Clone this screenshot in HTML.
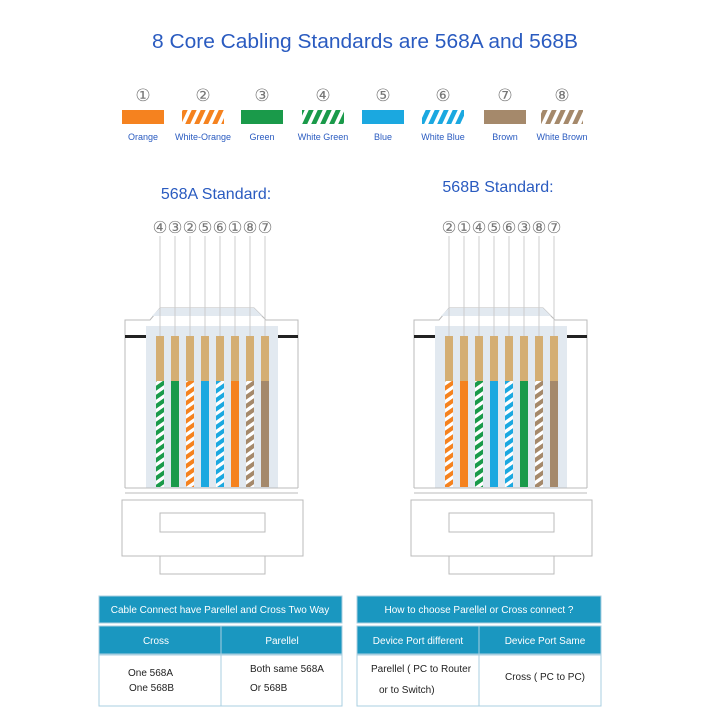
<!DOCTYPE html>
<html><head><meta charset="utf-8"><style>
html,body{margin:0;padding:0;background:#fff;width:720px;height:720px;overflow:hidden}
svg{display:block}
text{font-family:"Liberation Sans",sans-serif}
</style></head><body>
<svg width="720" height="720" viewBox="0 0 720 720" xmlns="http://www.w3.org/2000/svg">
<defs>
<pattern id="sO" width="8" height="9" patternUnits="userSpaceOnUse" patternTransform="skewY(-35)"><rect width="8" height="9" fill="#fff"/><rect width="8" height="5" fill="#f5821f"/></pattern>
<pattern id="sG" width="8" height="9" patternUnits="userSpaceOnUse" patternTransform="skewY(-35)"><rect width="8" height="9" fill="#fff"/><rect width="8" height="5" fill="#1a9a4a"/></pattern>
<pattern id="sB" width="8" height="9" patternUnits="userSpaceOnUse" patternTransform="skewY(-35)"><rect width="8" height="9" fill="#fff"/><rect width="8" height="5" fill="#1ba8e0"/></pattern>
<pattern id="sN" width="8" height="9" patternUnits="userSpaceOnUse" patternTransform="skewY(-35)"><rect width="8" height="9" fill="#fff"/><rect width="8" height="5" fill="#a5896b"/></pattern>
<pattern id="lO" width="9" height="14" patternUnits="userSpaceOnUse" patternTransform="skewX(-25)"><rect width="9" height="14" fill="#fff"/><rect width="5" height="14" fill="#f5821f"/></pattern>
<pattern id="lG" width="9" height="14" patternUnits="userSpaceOnUse" patternTransform="skewX(-25)"><rect width="9" height="14" fill="#fff"/><rect width="5" height="14" fill="#1a9a4a"/></pattern>
<pattern id="lB" width="9" height="14" patternUnits="userSpaceOnUse" patternTransform="skewX(-25)"><rect width="9" height="14" fill="#fff"/><rect width="5" height="14" fill="#1ba8e0"/></pattern>
<pattern id="lN" width="9" height="14" patternUnits="userSpaceOnUse" patternTransform="skewX(-25)"><rect width="9" height="14" fill="#fff"/><rect width="5" height="14" fill="#a5896b"/></pattern>
<g id="conn">
  <path d="M125,488 V320 H150 L160,308 H254 L266,320 H298 V488" fill="#fff" stroke="#bbb" stroke-width="1"/>
  <path d="M160,308 H254 L262,316 H152 Z" fill="#e2e9f0"/>
  <rect x="146" y="326" width="132" height="162" fill="#e2e9f0"/>
  <rect x="125" y="335" width="21" height="3" fill="#222"/>
  <rect x="278" y="335" width="20" height="3" fill="#222"/>
  <line x1="125" y1="488" x2="298" y2="488" stroke="#bbb"/>
  <line x1="125" y1="493" x2="298" y2="493" stroke="#bbb"/>
  <rect x="122" y="500" width="181" height="56" fill="#fff" stroke="#bbb"/>
  <rect x="160" y="513" width="105" height="19" fill="#fff" stroke="#bbb"/>
  <rect x="160" y="556" width="105" height="18" fill="#fff" stroke="#bbb"/>
  <g stroke="#ccc" stroke-width="1">
    <line x1="160" y1="236" x2="160" y2="336"/><line x1="175" y1="236" x2="175" y2="336"/><line x1="190" y1="236" x2="190" y2="336"/><line x1="205" y1="236" x2="205" y2="336"/><line x1="220" y1="236" x2="220" y2="336"/><line x1="235" y1="236" x2="235" y2="336"/><line x1="250" y1="236" x2="250" y2="336"/><line x1="265" y1="236" x2="265" y2="336"/>
  </g>
  <g fill="#d4ae73">
    <rect x="156" y="336" width="8" height="46"/><rect x="171" y="336" width="8" height="46"/><rect x="186" y="336" width="8" height="46"/><rect x="201" y="336" width="8" height="46"/><rect x="216" y="336" width="8" height="46"/><rect x="231" y="336" width="8" height="46"/><rect x="246" y="336" width="8" height="46"/><rect x="261" y="336" width="8" height="46"/>
  </g>
</g>
</defs>

<text x="365" y="48" text-anchor="middle" font-size="20" fill="#2a5bc0" textLength="426" lengthAdjust="spacingAndGlyphs">8 Core Cabling Standards are 568A and 568B</text>

<g font-size="17" fill="#777" text-anchor="middle">
<text x="143" y="101">①</text><text x="203" y="101">②</text><text x="262" y="101">③</text><text x="323" y="101">④</text><text x="383" y="101">⑤</text><text x="443" y="101">⑥</text><text x="505" y="101">⑦</text><text x="562" y="101">⑧</text>
</g>
<rect x="122" y="110" width="42" height="14" fill="#f5821f"/>
<rect x="182" y="110" width="42" height="14" fill="url(#lO)"/>
<rect x="241" y="110" width="42" height="14" fill="#1a9a4a"/>
<rect x="302" y="110" width="42" height="14" fill="url(#lG)"/>
<rect x="362" y="110" width="42" height="14" fill="#1ba8e0"/>
<rect x="422" y="110" width="42" height="14" fill="url(#lB)"/>
<rect x="484" y="110" width="42" height="14" fill="#a5896b"/>
<rect x="541" y="110" width="42" height="14" fill="url(#lN)"/>
<g font-size="9" fill="#2a5bc0" text-anchor="middle">
<text x="143" y="140">Orange</text><text x="203" y="140">White-Orange</text><text x="262" y="140">Green</text><text x="323" y="140">White Green</text><text x="383" y="140">Blue</text><text x="443" y="140">White Blue</text><text x="505" y="140">Brown</text><text x="562" y="140">White Brown</text>
</g>

<text x="216" y="199" text-anchor="middle" font-size="16" fill="#2a5bc0">568A Standard:</text>
<text x="498" y="192" text-anchor="middle" font-size="16" fill="#2a5bc0">568B Standard:</text>

<use href="#conn"/>
<g font-size="16.5" fill="#777" text-anchor="middle">
<text x="160" y="233">④</text><text x="175" y="233">③</text><text x="190" y="233">②</text><text x="205" y="233">⑤</text><text x="220" y="233">⑥</text><text x="235" y="233">①</text><text x="250" y="233">⑧</text><text x="265" y="233">⑦</text>
</g>
<rect x="156" y="381" width="8" height="106" fill="url(#sG)"/>
<rect x="171" y="381" width="8" height="106" fill="#1a9a4a"/>
<rect x="186" y="381" width="8" height="106" fill="url(#sO)"/>
<rect x="201" y="381" width="8" height="106" fill="#1ba8e0"/>
<rect x="216" y="381" width="8" height="106" fill="url(#sB)"/>
<rect x="231" y="381" width="8" height="106" fill="#f5821f"/>
<rect x="246" y="381" width="8" height="106" fill="url(#sN)"/>
<rect x="261" y="381" width="8" height="106" fill="#a5896b"/>

<g transform="translate(289,0)">
<use href="#conn"/>
<g font-size="16.5" fill="#777" text-anchor="middle">
<text x="160" y="233">②</text><text x="175" y="233">①</text><text x="190" y="233">④</text><text x="205" y="233">⑤</text><text x="220" y="233">⑥</text><text x="235" y="233">③</text><text x="250" y="233">⑧</text><text x="265" y="233">⑦</text>
</g>
<rect x="156" y="381" width="8" height="106" fill="url(#sO)"/>
<rect x="171" y="381" width="8" height="106" fill="#f5821f"/>
<rect x="186" y="381" width="8" height="106" fill="url(#sG)"/>
<rect x="201" y="381" width="8" height="106" fill="#1ba8e0"/>
<rect x="216" y="381" width="8" height="106" fill="url(#sB)"/>
<rect x="231" y="381" width="8" height="106" fill="#1a9a4a"/>
<rect x="246" y="381" width="8" height="106" fill="url(#sN)"/>
<rect x="261" y="381" width="8" height="106" fill="#a5896b"/>
</g>

<g stroke="#a9cfe0" stroke-width="1">
<rect x="99" y="596" width="243" height="27" fill="#1a97c0"/>
<rect x="99" y="626" width="243" height="28" fill="#1a97c0"/>
<rect x="99" y="655" width="243" height="51" fill="#fff"/>
<line x1="221" y1="626" x2="221" y2="706"/>
<rect x="357" y="596" width="244" height="27" fill="#1a97c0"/>
<rect x="357" y="626" width="244" height="28" fill="#1a97c0"/>
<rect x="357" y="655" width="244" height="51" fill="#fff"/>
<line x1="479" y1="626" x2="479" y2="706"/>
</g>
<g font-size="10" fill="#fff" text-anchor="middle">
<text x="220" y="613">Cable Connect have Parellel and Cross Two Way</text>
<text x="156" y="644">Cross</text>
<text x="282" y="644">Parellel</text>
<text x="479" y="613">How to choose Parellel or Cross connect ?</text>
<text x="418" y="644">Device Port different</text>
<text x="545" y="644">Device Port Same</text>
</g>
<g font-size="10" fill="#222">
<text x="128" y="676">One 568A</text>
<text x="129" y="691">One 568B</text>
<text x="250" y="672">Both same 568A</text>
<text x="250" y="691">Or 568B</text>
<text x="371" y="672">Parellel ( PC to Router</text>
<text x="379" y="693">or to Switch)</text>
<text x="505" y="680">Cross ( PC to PC)</text>
</g>
</svg>
</body></html>
